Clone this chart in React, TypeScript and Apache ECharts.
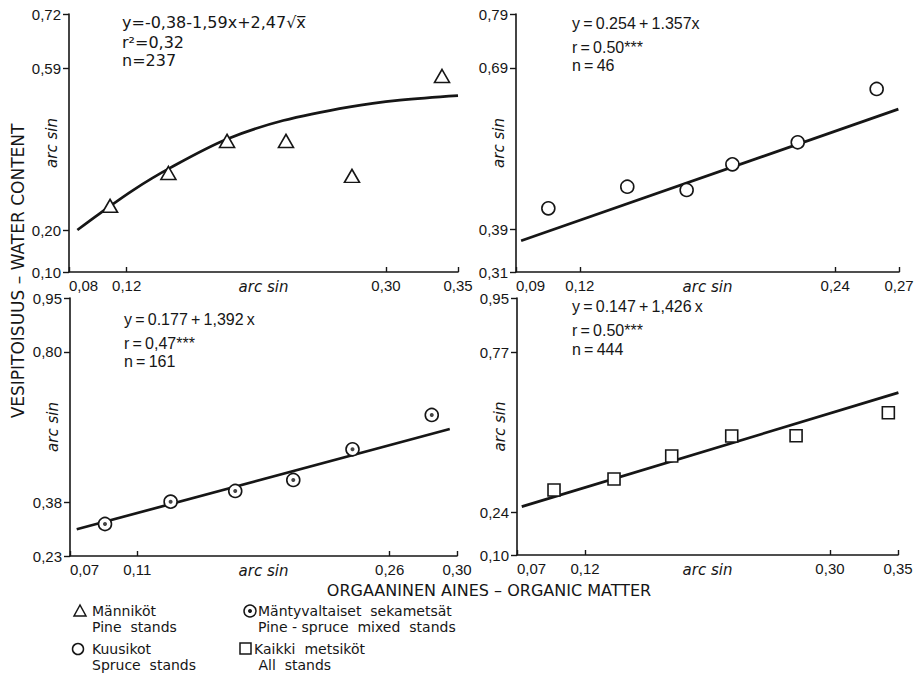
import React, { useEffect, useRef } from "react";
import * as echarts from "echarts";

// ---- Panel 1: Männiköt / Pine stands ----
const pineX = [0.1085, 0.149, 0.1897, 0.2306, 0.2764, 0.3389];
const pineY = [0.259, 0.338, 0.415, 0.415, 0.331, 0.571];
const pineCurveX = [0.0858, 0.1015, 0.1246, 0.1496, 0.1894, 0.2287, 0.275, 0.3097, 0.35];
const pineCurveY = [0.201, 0.241, 0.297, 0.349, 0.419, 0.464, 0.497, 0.513, 0.524];
const pineXTicks = [0.08, 0.12, 0.3, 0.35];
const pineYTicks = [0.1, 0.2, 0.59, 0.72];

// ---- Panel 2: Kuusikot / Spruce stands ----
const spruceX = [0.1052, 0.1423, 0.1702, 0.1917, 0.2224, 0.2595];
const spruceY = [0.4285, 0.4687, 0.4626, 0.5103, 0.5513, 0.6505];
const spruceLineX = [0.0924, 0.2697];
const spruceLineY = [0.368, 0.613];
const spruceXTicks = [0.09, 0.12, 0.24, 0.27];
const spruceYTicks = [0.31, 0.39, 0.69, 0.79];

// ---- Panel 3: Mäntyvaltaiset sekametsät / Pine-spruce mixed stands ----
const mixedX = [0.0908, 0.1298, 0.1682, 0.2027, 0.2379, 0.285];
const mixedY = [0.3193, 0.3816, 0.4114, 0.4421, 0.5278, 0.6235];
const mixedLineX = [0.074, 0.2957];
const mixedLineY = [0.3045, 0.5845];
const mixedXTicks = [0.07, 0.11, 0.26, 0.3];
const mixedYTicks = [0.23, 0.38, 0.8, 0.95];

// ---- Panel 4: Kaikki metsiköt / All stands ----
const allX = [0.0972, 0.1413, 0.1837, 0.2278, 0.2751, 0.3429];
const allY = [0.315, 0.3513, 0.4274, 0.4935, 0.4945, 0.5706];
const allLineX = [0.0735, 0.3503];
const allLineY = [0.26, 0.637];
const allXTicks = [0.07, 0.12, 0.3, 0.35];
const allYTicks = [0.1, 0.24, 0.77, 0.95];

const INK = "#161616";
const NUMFONT = "'Liberation Sans', Arial, sans-serif";
const TXTFONT = "'DejaVu Sans', 'Liberation Sans', sans-serif";
const T = "\u2009"; // thin space

const zip = (xs: number[], ys: number[]) => xs.map((x, i) => [x, ys[i]]);
const fmt = (v: number) => v.toFixed(2).replace(".", ",");

function xAxis(gridIndex: number, ticks: number[]) {
  return {
    type: "value",
    gridIndex,
    min: ticks[0],
    max: ticks[ticks.length - 1],
    name: "arc sin",
    nameLocation: "middle",
    nameGap: 7,
    nameMoveOverlap: false,
    nameTextStyle: { fontStyle: "italic", fontSize: 15, fontFamily: TXTFONT, color: INK },
    axisLine: { show: true, lineStyle: { color: INK, width: 1.6 } },
    axisTick: { show: true, inside: true, length: 5, customValues: ticks, lineStyle: { color: INK, width: 1.4 } },
    axisLabel: {
      customValues: ticks,
      formatter: (v: number) => fmt(v),
      fontSize: 15,
      fontFamily: NUMFONT,
      color: INK,
      margin: 6,
      alignMinLabel: "left",
    },
    splitLine: { show: false },
  };
}

function yAxis(gridIndex: number, ticks: number[]) {
  return {
    type: "value",
    gridIndex,
    min: ticks[0],
    max: ticks[ticks.length - 1],
    name: "arc sin",
    nameLocation: "middle",
    nameRotate: 90,
    nameGap: 10,
    nameMoveOverlap: false,
    nameTextStyle: { fontStyle: "italic", fontSize: 15, fontFamily: TXTFONT, color: INK },
    axisLine: { show: true, lineStyle: { color: INK, width: 1.6 } },
    axisTick: { show: true, inside: false, length: 6, customValues: ticks, lineStyle: { color: INK, width: 1.4 } },
    axisLabel: {
      customValues: ticks,
      formatter: (v: number) => fmt(v),
      fontSize: 15,
      fontFamily: NUMFONT,
      color: INK,
      margin: 8,
    },
    splitLine: { show: false },
  };
}

function fitLine(name: string, idx: number, xs: number[], ys: number[], smooth = false) {
  return {
    name,
    type: "line",
    xAxisIndex: idx,
    yAxisIndex: idx,
    data: zip(xs, ys),
    smooth: smooth ? 0.35 : false,
    showSymbol: false,
    symbol: "none",
    lineStyle: { color: INK, width: 2.7 },
    z: 2,
    silent: true,
  };
}

function marks(name: string, idx: number, xs: number[], ys: number[], symbol: string, size: number | number[]) {
  return {
    name,
    type: "scatter",
    xAxisIndex: idx,
    yAxisIndex: idx,
    data: zip(xs, ys),
    symbol,
    symbolSize: size,
    itemStyle: { color: "#ffffff", borderColor: INK, borderWidth: 1.6, opacity: 1 },
    z: 3,
  };
}

function textLine(x: number, y: number, text: string, size = 16, font = NUMFONT) {
  return {
    type: "text",
    x,
    y,
    style: { text, fontSize: size, fontFamily: font, fill: INK, verticalAlign: "middle" },
  };
}

function legendText(x: number, y: number, text: string) {
  return {
    type: "text",
    x,
    y,
    style: { text, fontSize: 14, lineHeight: 16, fontFamily: TXTFONT, fill: INK, verticalAlign: "top" },
  };
}

export default function App() {
  const ref = useRef<HTMLDivElement>(null);

  useEffect(() => {
    if (!ref.current) return;
    const chart = echarts.init(ref.current, undefined, { renderer: "svg" });
    const lw = 1.5;
    const option: any = {
      animation: false,
      backgroundColor: "#ffffff",
      grid: [
        { left: 69, top: 14, width: 389, height: 258 },
        { left: 516, top: 14, width: 383, height: 258 },
        { left: 70, top: 298, width: 387, height: 258 },
        { left: 517, top: 298, width: 381, height: 257 },
      ],
      xAxis: [xAxis(0, pineXTicks), xAxis(1, spruceXTicks), xAxis(2, mixedXTicks), xAxis(3, allXTicks)],
      yAxis: [yAxis(0, pineYTicks), yAxis(1, spruceYTicks), yAxis(2, mixedYTicks), yAxis(3, allYTicks)],
      series: [
        fitLine("Pine fit", 0, pineCurveX, pineCurveY, true),
        marks("Männiköt", 0, pineX, pineY, "triangle", [15, 13]),
        fitLine("Spruce fit", 1, spruceLineX, spruceLineY),
        marks("Kuusikot", 1, spruceX, spruceY, "circle", 13),
        fitLine("Mixed fit", 2, mixedLineX, mixedLineY),
        marks("Mäntyvaltaiset sekametsät", 2, mixedX, mixedY, "circle", 13),
        {
          name: "Mäntyvaltaiset sekametsät (dot)",
          type: "scatter",
          xAxisIndex: 2,
          yAxisIndex: 2,
          data: zip(mixedX, mixedY),
          symbol: "circle",
          symbolSize: 4,
          itemStyle: { color: INK },
          z: 4,
        },
        fitLine("All fit", 3, allLineX, allLineY),
        marks("Kaikki metsiköt", 3, allX, allY, "rect", 12),
      ],
      graphic: [
        // equations
        textLine(122, 22, "y=-0,38-1,59x+2,47√x̅", 16, TXTFONT),
        textLine(122, 42, "r²=0,32", 16, TXTFONT),
        textLine(122, 60, "n=237", 16, TXTFONT),
        textLine(572, 23, `y${T}=${T}0.254${T}+${T}1.357x`),
        textLine(572, 47, `r${T}=${T}0.50***`),
        textLine(572, 65, `n${T}=${T}46`),
        textLine(124, 319, `y${T}=${T}0.177${T}+${T}1,392${T}x`),
        textLine(124, 343, `r${T}=${T}0,47***`),
        textLine(124, 361, `n${T}=${T}161`),
        textLine(572, 306, `y${T}=${T}0.147${T}+${T}1,426${T}x`),
        textLine(572, 330, `r${T}=${T}0.50***`),
        textLine(572, 349, `n${T}=${T}444`),
        // axis titles
        {
          type: "text",
          x: 18,
          y: 271,
          rotation: Math.PI / 2,
          style: {
            text: "VESIPITOISUUS – WATER CONTENT",
            fontSize: 17,
            fontFamily: TXTFONT,
            fill: INK,
            align: "center",
            verticalAlign: "middle",
          },
        },
        {
          type: "text",
          x: 489,
          y: 590,
          style: {
            text: "ORGAANINEN AINES – ORGANIC MATTER",
            fontSize: 16,
            fontFamily: TXTFONT,
            fill: INK,
            align: "center",
            verticalAlign: "middle",
          },
        },
        // legend
        {
          type: "polygon",
          shape: { points: [[80, 605], [74, 616], [86, 616]] },
          style: { fill: "#fff", stroke: INK, lineWidth: lw },
        },
        legendText(92, 603, "Männiköt\nPine  stands"),
        { type: "circle", shape: { cx: 250, cy: 611, r: 6 }, style: { fill: "#fff", stroke: INK, lineWidth: lw } },
        { type: "circle", shape: { cx: 250, cy: 611, r: 2 }, style: { fill: INK } },
        legendText(258, 603, "Mäntyvaltaiset  sekametsät\nPine - spruce  mixed  stands"),
        { type: "circle", shape: { cx: 78, cy: 649, r: 5.5 }, style: { fill: "#fff", stroke: INK, lineWidth: lw } },
        legendText(92, 641, "Kuusikot\nSpruce  stands"),
        { type: "rect", shape: { x: 240, y: 643, width: 11, height: 11 }, style: { fill: "#fff", stroke: INK, lineWidth: lw } },
        legendText(254, 641, "Kaikki  metsiköt\n All  stands"),
      ],
    };
    chart.setOption(option);
    return () => chart.dispose();
  }, []);

  return (
    <div
      ref={ref}
      style={{ position: "fixed", left: 0, top: 0, width: 917, height: 673, background: "#fff" }}
    />
  );
}
